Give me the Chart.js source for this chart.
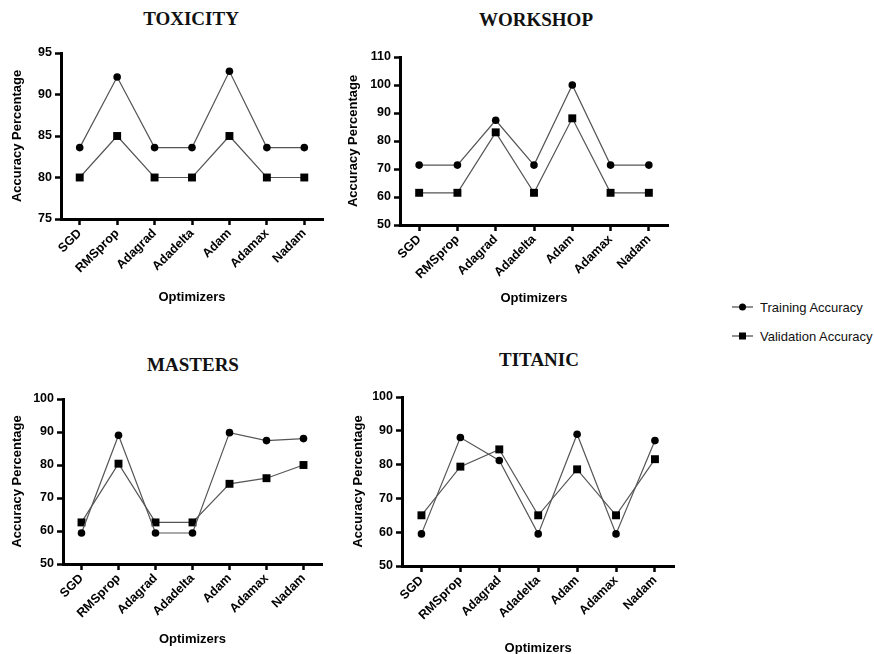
<!DOCTYPE html>
<html>
<head>
<meta charset="utf-8">
<script src="https://cdn.jsdelivr.net/npm/chart.js@4.4.1/dist/chart.umd.min.js"></script>
<style>
  body { margin: 0; background: #fff; width: 874px; height: 654px; position: relative; overflow: hidden; }
  canvas.panel { position: absolute; }
  .ttl { position: absolute; transform: translate(-50%, -50%); white-space: nowrap;
         font: bold 19px "Liberation Serif", "Times New Roman", serif; color: #111; }
  .leg { position: absolute; left: 732px; font: 13px "Liberation Sans", Arial, sans-serif; color: #111;
         display: flex; align-items: center; transform: translateY(-50%); white-space: nowrap; }
  .mk { position: relative; width: 21px; height: 10px; margin-right: 7px; }
  .mk::before { content: ""; position: absolute; left: 0; right: 0; top: 4.5px; height: 1.2px; background: #222; }
  .mk i { position: absolute; left: 7px; top: 1.5px; width: 7px; height: 7px; background: #000; }
  .mk.c i { border-radius: 50%; }
</style>
</head>
<body>

<div class="ttl" style="left:191px;top:19px">TOXICITY</div>
<div class="ttl" style="left:536px;top:20px">WORKSHOP</div>
<div class="ttl" style="left:193px;top:365px">MASTERS</div>
<div class="ttl" style="left:539px;top:360px">TITANIC</div>

<div class="leg" style="top:307px"><span class="mk c"><i></i></span>Training Accuracy</div>
<div class="leg" style="top:336px"><span class="mk"><i></i></span>Validation Accuracy</div>

<script>
// data
const optimizers = ['SGD', 'RMSprop', 'Adagrad', 'Adadelta', 'Adam', 'Adamax', 'Nadam'];

const toxicityTrain = [83.6, 92.1, 83.6, 83.6, 92.8, 83.6, 83.6];
const toxicityVal   = [80, 85, 80, 80, 85, 80, 80];

const workshopTrain = [71.4, 71.4, 87.4, 71.4, 100, 71.4, 71.4];
const workshopVal   = [61.5, 61.5, 83.1, 61.5, 88.1, 61.5, 61.5];

const mastersTrain = [59.4, 89, 59.4, 59.4, 89.8, 87.4, 88];
const mastersVal   = [62.6, 80.4, 62.6, 62.6, 74.3, 76, 80];

const titanicTrain = [59.5, 88, 81.2, 59.5, 89, 59.5, 87.1];
const titanicVal   = [65, 79.4, 84.5, 65, 78.6, 65, 81.6];

const toxicityRange = [75, 95, 5];
const otherRange    = [50, 100, 10];
const workshopRange = [50, 110, 10];

Chart.defaults.font.family = '"Liberation Sans", Arial, sans-serif';
Chart.defaults.color = '#000';

const TITLE_LH = 13 * 1.2;

function makePanel(p) {
  const [bx, by, bw, bh] = p.box;
  const c = document.createElement('canvas');
  c.className = 'panel';
  c.width = bw; c.height = bh;
  c.style.left = bx + 'px'; c.style.top = by + 'px';
  document.body.appendChild(c);

  const padLeft = p.yTitleX - bx - TITLE_LH / 2;
  const padBottom = bh - (p.xTitleY - by + TITLE_LH / 2);
  const padTop = p.area.top - by;
  const padRight = bw - (p.area.right - bx);
  const yWidth = p.area.left - bx - padLeft;
  const xHeight = (bh - padBottom) - (p.area.bottom - by);

  const lineStyle = { borderColor: '#555', borderWidth: 1.2, pointBackgroundColor: '#000',
                      pointBorderColor: '#000', pointBorderWidth: 0, tension: 0, clip: false };

  new Chart(c, {
    type: 'line',
    data: {
      labels: optimizers,
      datasets: [
        Object.assign({ label: 'Training Accuracy', data: p.train, pointStyle: 'circle', pointRadius: 3.8 }, lineStyle),
        Object.assign({ label: 'Validation Accuracy', data: p.val, pointStyle: 'rect', pointRadius: 5.6 }, lineStyle)
      ]
    },
    options: {
      responsive: false,
      animation: false,
      layout: { padding: { left: padLeft, right: padRight, top: padTop, bottom: padBottom } },
      plugins: { legend: { display: false }, tooltip: { enabled: false } },
      scales: {
        x: {
          offset: true,
          grid: { offset: false, drawOnChartArea: false, tickLength: 6, tickWidth: 2.5, tickColor: '#000' },
          border: { color: '#000', width: 3 },
          ticks: { minRotation: 45, maxRotation: 45, padding: 1, font: { size: 12.5, weight: 'bold' } },
          title: { display: true, text: 'Optimizers', padding: 0, font: { size: 13, weight: 'bold' } },
          afterFit(s) { s.height = xHeight; }
        },
        y: {
          min: p.range[0], max: p.range[1],
          grid: { drawOnChartArea: false, tickLength: 6, tickWidth: 2.5, tickColor: '#000' },
          border: { color: '#000', width: 3 },
          ticks: { stepSize: p.range[2], padding: 3, font: { size: 12.5, weight: 'bold' } },
          title: { display: true, text: 'Accuracy Percentage', padding: 0, font: { size: 13, weight: 'bold' } },
          afterFit(s) { s.width = yWidth; }
        }
      }
    }
  });
}

makePanel({ box: [0, 0, 340, 320], area: { left: 61, right: 323, top: 53, bottom: 219 },
            yTitleX: 17, xTitleY: 297, range: toxicityRange, train: toxicityTrain, val: toxicityVal });
makePanel({ box: [340, 0, 340, 320], area: { left: 400, right: 668, top: 57, bottom: 225 },
            yTitleX: 353, xTitleY: 298, range: workshopRange, train: workshopTrain, val: workshopVal });
makePanel({ box: [0, 330, 340, 324], area: { left: 63, right: 322, top: 399, bottom: 564 },
            yTitleX: 17, xTitleY: 639, range: otherRange, train: mastersTrain, val: mastersVal });
makePanel({ box: [340, 330, 340, 324], area: { left: 402, right: 675, top: 397, bottom: 566 },
            yTitleX: 358, xTitleY: 648, range: otherRange, train: titanicTrain, val: titanicVal });
</script>
</body>
</html>
